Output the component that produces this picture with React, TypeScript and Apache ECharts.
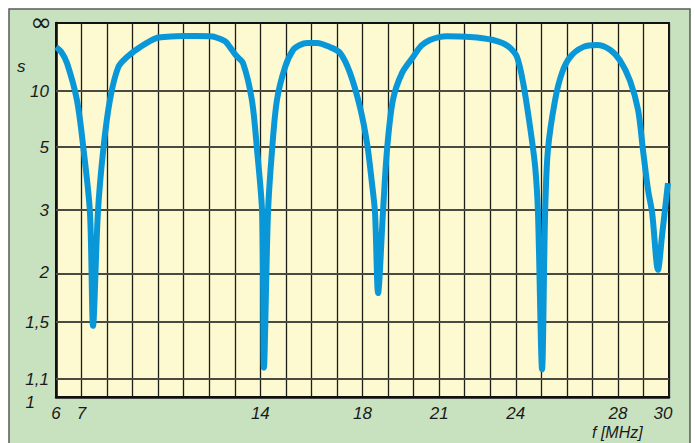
import React, { useEffect, useRef } from "react";
import * as echarts from "echarts";

// frequency (MHz) and SWR
const freq = [
  6.0, 6.2, 6.43, 6.82, 7.08, 7.33, 7.45, 7.64, 7.85, 8.11, 8.44, 8.78, 9.29, 9.95, 10.5, 11.0, 11.5, 12.0,
  12.23, 12.62, 12.81, 13.05, 13.32, 13.67, 13.87, 14.07, 14.14, 14.3, 14.46, 14.65, 14.97, 15.28,
  15.55, 15.83, 16.22, 16.73, 17.12, 17.51, 17.9, 18.18, 18.37, 18.49, 18.61, 18.8, 18.96, 19.19,
  19.55, 19.98, 20.3, 20.64, 21.0, 21.31, 21.8, 22.21, 22.7, 23.11, 23.5, 23.78, 24.05, 24.29, 24.56,
  24.76, 24.87, 25.03, 25.15, 25.26, 25.54, 25.81, 26.13, 26.63, 27.18, 27.69, 28.08, 28.47, 28.79,
  28.98, 29.18, 29.34, 29.57, 29.73, 29.96,
];
const swr = [
  30, 25, 17.7, 8.7, 4.9, 2.94, 1.47, 2.94, 4.9, 8.7, 16, 21, 30, 49, 54, 56, 56.5, 55,
  52, 40, 30, 22, 17.7, 8.7, 4.9, 2.94, 1.17, 2.94, 4.9, 8.7, 16, 26.7,
  33, 36.5, 36.5, 30, 24, 14, 7.9, 5.2, 3.67, 2.94, 1.77, 2.94, 4.9, 8.7,
  14, 21, 32, 43, 52, 55, 54, 52, 48, 43, 36, 29, 21, 11.5, 6.2,
  4.2, 2.94, 1.16, 2.94, 4.9, 8.7, 14, 21, 30, 33, 27, 19, 12, 7.6,
  4.9, 3.48, 2.94, 2.03, 2.53, 3.67,
];

const xLabels = [6, 7, 14, 18, 21, 24, 28, 30];
const ySwrTicks = [1, 1.1, 1.5, 2, 3, 5, 10, Infinity];
const yTickText = ["1", "1,1", "1,5", "2", "3", "5", "10", "∞"];
const yGridSwr = [1.1, 1.5, 2, 3, 5, 10];

const toR = (s: number) => (s === Infinity ? 1 : (s - 1) / (s + 1));

const FONT = "Liberation Sans, Arial, Helvetica, sans-serif";
const labelText = { fontFamily: FONT, fontStyle: "italic", fontSize: 17, color: "#1a1a1a" };

export default function App() {
  const ref = useRef<HTMLDivElement>(null);
  useEffect(() => {
    if (!ref.current) return;
    const chart = echarts.init(ref.current, null, { renderer: "svg" });
    const data = freq.map((f, i) => [f, toR(swr[i])]);
    const rTicks = ySwrTicks.map(toR);
    const labelFor = (v: number) => {
      let best = 0;
      let bd = 1e9;
      rTicks.forEach((r, i) => {
        const d = Math.abs(r - v);
        if (d < bd) {
          bd = d;
          best = i;
        }
      });
      return bd < 1e-6 ? best : -1;
    };
    chart.setOption({
      animation: false,
      backgroundColor: "#ffffff",
      graphic: [
        {
          type: "rect",
          z: -10,
          shape: { x: 9, y: 9, width: 681, height: 440 },
          style: { fill: "#c8e2c0", stroke: "#5a5a55", lineWidth: 1.5 },
        },
        {
          type: "text",
          left: 17,
          top: 58,
          style: { text: "s", font: `italic 17px ${FONT}`, fill: "#1a1a1a" },
        },
        {
          type: "text",
          left: 592,
          top: 424,
          style: { text: "f [MHz]", font: `italic 16px ${FONT}`, fill: "#1a1a1a" },
        },
      ],
      grid: {
        left: 56,
        right: 26,
        top: 23,
        bottom: 46,
        show: true,
        backgroundColor: "#fdf9d0",
        borderColor: "#111",
        borderWidth: 2,
        z: 0,
      },
      xAxis: {
        type: "value",
        min: 6,
        max: 30,
        interval: 1,
        axisLine: { show: true, onZero: false, lineStyle: { color: "#111", width: 2.5 } },
        axisTick: { show: false },
        splitLine: { show: true, lineStyle: { color: "#1e1e18", width: 1.3 } },
        axisLabel: {
          margin: 8,
          ...labelText,
          formatter: (v: number) => {
            if (!xLabels.includes(Math.round(v))) return "";
            if (Math.round(v) === 30) return "{r|30}";
            return String(Math.round(v));
          },
          rich: {
            r: { padding: [0, 12, 0, 0], ...labelText },
          },
        },
      },
      yAxis: {
        type: "value",
        min: 0,
        max: 1,
        axisLine: { show: true, lineStyle: { color: "#111", width: 2.5 } },
        axisTick: { show: false, customValues: rTicks },
        splitLine: { show: false },
        axisLabel: {
          customValues: rTicks,
          margin: 4,
          ...labelText,
          formatter: (v: number) => {
            const i = labelFor(v);
            if (i < 0) return "";
            if (yTickText[i] === "∞") return "{inf|∞}";
            if (yTickText[i] === "1") return "{low|1}";
            return `{n|${yTickText[i]}}`;
          },
          rich: {
            n: { padding: [0, 3, 0, 0], ...labelText },
            inf: { fontFamily: "DejaVu Sans, sans-serif", fontSize: 26, color: "#1a1a1a", padding: [0, 0, 2, 0] },
            low: { padding: [11, 17, 0, 0], ...labelText },
          },
        },
      },
      series: [
        {
          type: "line",
          data,
          symbol: "none",
          smooth: 0.3,
          z: 5,
          lineStyle: { color: "#0a97d8", width: 6, cap: "butt", join: "miter", miterLimit: 2 },
          markLine: {
            silent: true,
            symbol: "none",
            label: { show: false },
            z: 1,
            lineStyle: { color: "#4a4a40", width: 2, type: "solid" },
            data: yGridSwr.map((s) => ({ yAxis: toR(s) })),
          },
        },
      ],
    });
    return () => chart.dispose();
  }, []);
  return (
    <div
      ref={ref}
      style={{ position: "fixed", left: 0, top: 0, width: 695, height: 443 }}
    />
  );
}
